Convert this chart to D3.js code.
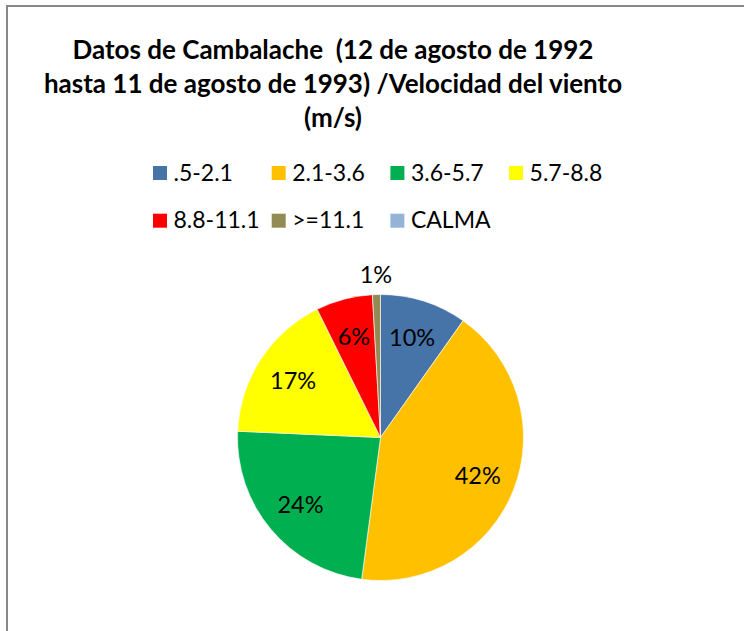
<!DOCTYPE html>
<html><head><meta charset="utf-8">
<script src="https://cdn.jsdelivr.net/npm/d3@7"></script>
<style>html,body{margin:0;padding:0;background:#fff;} svg{display:block;}</style>
</head><body>
<script>
const categories = [".5-2.1", "2.1-3.6", "3.6-5.7", "5.7-8.8", "8.8-11.1", ">=11.1", "CALMA"];
const values = [9.8, 42.3, 23.6, 17.0, 6.4, 0.9, 0];
const colors = ["#4674A8", "#FFC000", "#00B050", "#FFFF00", "#FF0000", "#948A54", "#95B3D7"];
const titleLines = ["Datos de Cambalache  (12 de agosto de 1992", "hasta 11 de agosto de 1993) /Velocidad del viento", "(m/s)"];

const W = 744, H = 631;
const FONT = "Lato, 'Open Sans', sans-serif";
const svg = d3.select("body").append("svg").attr("width", W).attr("height", H);

svg.append("rect").attr("x", 7).attr("y", 6).attr("width", 800).attr("height", 800)
  .attr("fill", "#fff").attr("stroke", "#888").attr("stroke-width", 2);

// Title
const title = svg.append("text")
  .attr("font-family", FONT).attr("font-weight", "bold").attr("font-size", 26)
  .attr("fill", "#000").attr("text-anchor", "middle").style("white-space", "pre");
title.selectAll("tspan").data(titleLines).join("tspan")
  .attr("x", 333).attr("y", (d, i) => 59 + i * 34).text(d => d);

// Legend
const legend = svg.append("g");
const items = legend.selectAll("g").data(categories).join("g")
  .attr("transform", (d, i) => `translate(${153 + (i % 4) * 118.7},${166 + Math.floor(i / 4) * 47.7})`);
items.append("rect").attr("width", 14).attr("height", 14).attr("fill", (d, i) => colors[i]);
items.append("text").attr("x", 20.5).attr("y", 14.5)
  .attr("font-family", FONT).attr("font-size", 23).attr("fill", "#000").text(d => d);

// Pie
const R = 143, cx = 380.5, cy = 437.5;
const total = d3.sum(values);
const fmt = d3.format(".0%");
const pie = d3.pie().sort(null).value(d => d.v);
const arcs = pie(values.map((v, i) => ({ v, i }))).filter(a => a.data.v > 0);
const arc = d3.arc().innerRadius(0).outerRadius(R);
const gPie = svg.append("g").attr("transform", `translate(${cx},${cy})`);
gPie.selectAll("path").data(arcs).join("path")
  .attr("d", arc).attr("fill", d => colors[d.data.i])
  .attr("stroke", "#fff").attr("stroke-width", 0.6);

const inArc = d3.arc().innerRadius(R * 0.73).outerRadius(R * 0.73);
const outArc = d3.arc().innerRadius(R * 1.137).outerRadius(R * 1.137);
gPie.selectAll("text").data(arcs).join("text")
  .attr("transform", d => {
    const c = (d.data.v / total < 0.02 ? outArc : inArc).centroid(d);
    return `translate(${c[0]},${c[1]})`;
  })
  .attr("text-anchor", "middle").attr("dy", "0.35em")
  .attr("font-family", FONT).attr("font-size", 23.5).attr("fill", "#000")
  .text(d => fmt(d.data.v / total));
</script>
</body></html>
